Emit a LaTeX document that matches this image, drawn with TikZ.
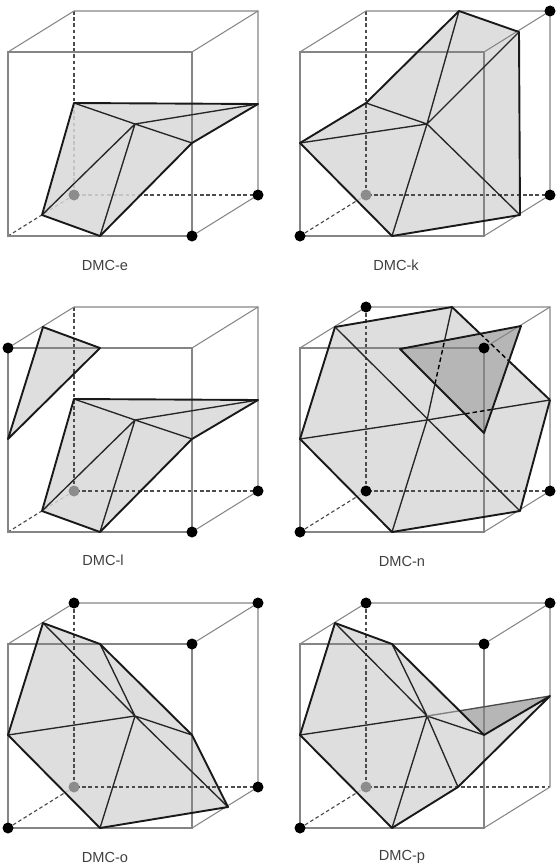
\documentclass[tikz,border=0pt]{standalone}
\usepackage{fontspec}
\setmainfont{Liberation Sans}
\usepackage{tikz}
\usetikzlibrary{calc}
\definecolor{surfgray}{HTML}{D8D8D8}
\definecolor{backgray}{HTML}{B6B6B6}
\tikzset{
  frame/.style={draw=black!48,line width=1.05pt},
  hid/.style={draw=black!70,line width=1.15pt,dash pattern=on 3.6pt off 2.6pt},
  hidtop/.style={draw=black,line width=1.4pt,dash pattern=on 4.5pt off 3pt},
  rim/.style={draw=black!90,line width=1.9pt,line join=round},
  spoke/.style={draw=black!85,line width=1.35pt},
  back/.style={fill=surfgray,fill opacity=0.85},
  backdark/.style={fill=backgray},
  vtx/.style={fill=black},
  vtxin/.style={fill=black!45},
  tag/.style={font=\fontsize{14.6}{16}\selectfont,text=black!75,inner sep=0pt},
}
% corners and edge points of one cube, local to the scope
\newcommand{\cubepts}{
  \coordinate (ftl) at (0,0); \coordinate (ftr) at (184,0);
  \coordinate (fbl) at (0,184); \coordinate (fbr) at (184,184);
  \coordinate (btl) at (66,-41); \coordinate (btr) at (250,-41);
  \coordinate (bbl) at (66,143); \coordinate (bbr) at (250,143);
  \coordinate (ma) at (66,51); \coordinate (mb) at (250,52);
  \coordinate (mc) at (184,91); \coordinate (md) at (92,184);
  \coordinate (me) at (34,163); \coordinate (mf) at (0,91);
  \coordinate (mg) at (35,-21); \coordinate (mh) at (92,0);
  \coordinate (mi) at (159,-41); \coordinate (mj) at (219,-20);
  \coordinate (mk) at (220,163); \coordinate (mm) at (158,143);
  \coordinate (cen) at (127,72);
}
\newcommand{\cubeback}{
  \draw[hid] (btl)--(bbl)--(bbr);
  \draw[hid] (bbl)--(fbl);
}
\newcommand{\cubeup}{\draw[hid] (btl)--(bbl)--(bbr);}
\newcommand{\cubefront}{
  \draw[frame] (ftl)--(ftr)--(fbr)--(fbl)--cycle;
  \draw[frame] (ftl)--(btl)--(btr)--(bbr)--(fbr);
  \draw[frame] (ftr)--(btr);
}
\newcommand{\dotat}[2][vtx]{\path[#1] (#2) circle (5.5);}
\begin{document}
\begin{tikzpicture}[x=1pt,y=-1pt]
\useasboundingbox (0,0) rectangle (556,867);
% DMC-e
\begin{scope}[shift={(8,52)}]
  \cubepts
  \cubeback
  \fill[back] (ma)--(mb)--(mc)--(md)--(me)--cycle;
  \cubefront
  \draw[spoke] (ma)--(cen)--(mc) (cen)--(mb) (cen)--(me) (cen)--(md);
  \draw[rim] (ma)--(mb)--(mc)--(md)--(me)--cycle;
  \dotat[vtxin]{bbl}
  \dotat{fbr}
  \dotat{bbr}
  \node[tag] (tage) at (97,213) {DMC-e};
\end{scope}
% DMC-k
\begin{scope}[shift={(300,52)}]
  \cubepts
  \cubeback
  \fill[back] (mi)--(mj)--(mk)--(md)--(mf)--(ma)--cycle;
  \cubeup
  \cubefront
  \draw[spoke] (cen)--(mi) (cen)--(mj) (cen)--(mk) (cen)--(md) (cen)--(mf) (cen)--(ma);
  \draw[rim] (mi)--(mj)--(mk)--(md)--(mf)--(ma)--cycle;
  \dotat[vtxin]{bbl}
  \dotat{fbl}
  \dotat{btr}
  \dotat{bbr}
  \node[tag] (tagk) at (96,213) {DMC-k};
\end{scope}
% DMC-l
\begin{scope}[shift={(8,348)}]
  \cubepts
  \cubeback
  \fill[back] (ma)--(mb)--(mc)--(md)--(me)--cycle;
  \fill[back] (mg)--(mh)--(mf)--cycle;
  \cubeup
  \cubefront
  \draw[spoke] (ma)--(cen)--(mc) (cen)--(mb) (cen)--(me) (cen)--(md);
  \draw[rim] (ma)--(mb)--(mc)--(md)--(me)--cycle;
  \draw[rim] (mg)--(mh)--(mf)--cycle;
  \dotat[vtxin]{bbl}
  \dotat{ftl}
  \dotat{fbr}
  \dotat{bbr}
  \node[tag] (tagl) at (95,212) {DMC-l};
\end{scope}
% DMC-n
\begin{scope}[shift={(300,348)}]
  \cubepts
  \coordinate (ni) at (152,-41);
  \coordinate (nh) at (100,1);
  \coordinate (nj) at (221,-22);
  \coordinate (nc) at (184,85);
  \cubeback
  \fill[back] (mg)--(ni)--(mb)--(mk)--(md)--(mf)--cycle;
  \cubeup
  \fill[backdark] (nh)--(nj)--(nc)--cycle;
  \cubefront
  \draw[spoke] (mg)--(mk) (mf)--(cen) (cen)--($(cen)!0.31!(mb)$) (md)--(cen);
  \draw[spoke] (cen)--($(cen)!0.32!(ni)$) ($(cen)!0.7!(ni)$)--(ni);
  \draw[spoke] ($(cen)!0.53!(mb)$)--(mb);
  \draw[rim] (mb)--(mk)--(md)--(mf)--(mg)--(ni)--($(ni)!0.288!(mb)$) ($(ni)!0.58!(mb)$)--(mb);
  % parts hidden by the dark triangle
  \draw[hidtop] ($(cen)!0.32!(ni)$)--($(cen)!0.7!(ni)$);
  \draw[hidtop] ($(cen)!0.31!(mb)$)--($(cen)!0.53!(mb)$);
  \draw[hidtop] ($(ni)!0.288!(mb)$)--($(ni)!0.58!(mb)$);
  \draw[rim] (nh)--(nj)--(nc)--cycle;
  \dotat{bbl}
  \dotat{btl}
  \dotat{ftr}
  \dotat{fbl}
  \dotat{bbr}
  \node[tag] (tagn) at (102,213) {DMC-n};
\end{scope}
% DMC-o
\begin{scope}[shift={(8,644)}]
  \cubepts
  \cubeback
  \fill[back] (mg)--(mh)--(mc)--(mk)--(md)--(mf)--cycle;
  \cubeup
  \cubefront
  \draw[spoke] (cen)--(mg) (cen)--(mh) (cen)--(mc) (cen)--(mk) (cen)--(md) (cen)--(mf);
  \draw[rim] (mg)--(mh)--(mc)--(mk)--(md)--(mf)--cycle;
  \dotat[vtxin]{bbl}
  \dotat{btl}
  \dotat{btr}
  \dotat{ftr}
  \dotat{bbr}
  \dotat{fbl}
  \node[tag] (tago) at (97,213) {DMC-o};
\end{scope}
% DMC-p
\begin{scope}[shift={(300,644)}]
  \cubepts
  \coordinate (px) at (159.6,66.8);
  \cubeback
  \fill[back] (mg)--(mh)--(mc)--(mb)--(mm)--(md)--(mf)--cycle;
  \cubeup
  \fill[backdark] (px)--(mb)--(mc)--cycle;
  \cubefront
  \draw[spoke] (cen)--(mg) (cen)--(mh) (cen)--(mc) (cen)--(mm) (cen)--(md) (cen)--(mf);
  \draw[spoke,draw=black!50] (cen)--(px);
  \draw[spoke,draw=black!70] (px)--(mb);
  \draw[rim] (mg)--(mh)--(mc)--(mb)--(mm)--(md)--(mf)--cycle;
  \dotat[vtxin]{bbl}
  \dotat{btl}
  \dotat{btr}
  \dotat{ftr}
  \dotat{fbl}
  \node[tag] (tagp) at (102,213) {DMC-p};
\end{scope}
\end{tikzpicture}
\end{document}
